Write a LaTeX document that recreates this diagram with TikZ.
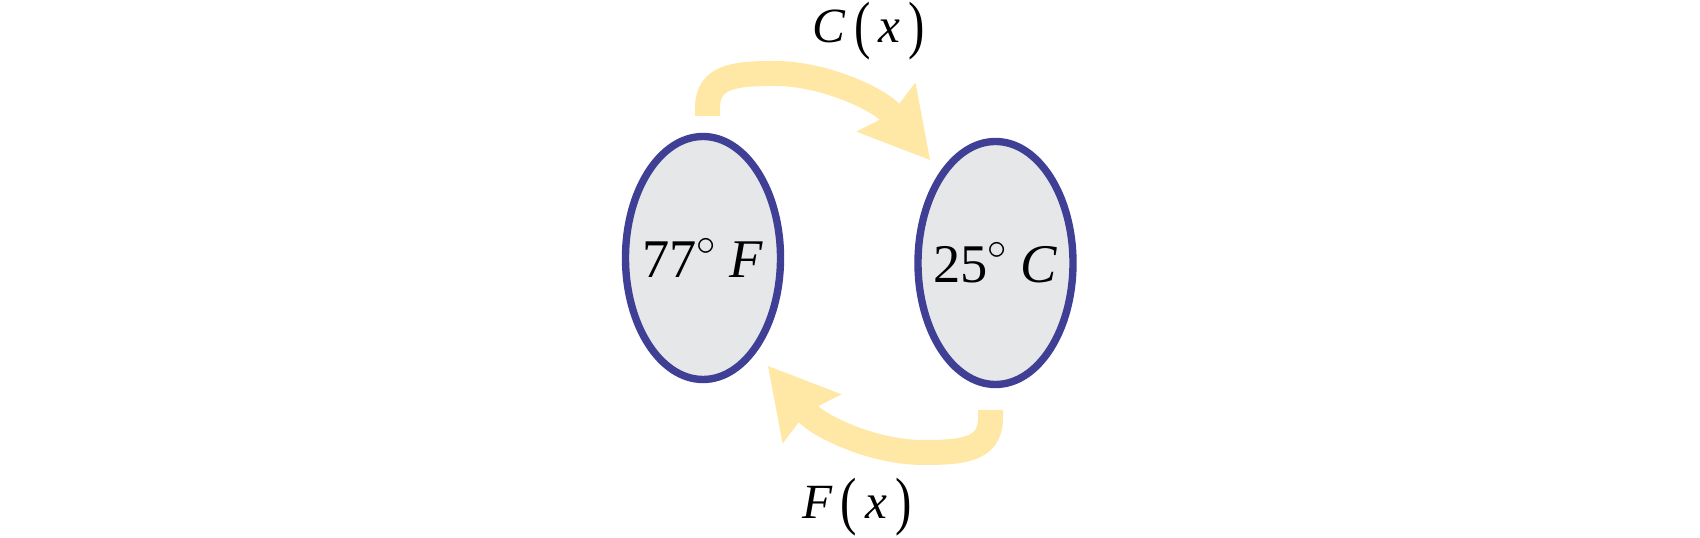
\documentclass[tikz,border=0pt]{standalone}
\usepackage{fontspec}
\setmainfont{Liberation Serif}
\usetikzlibrary{shapes.geometric, arrows.meta}
\definecolor{ringblue}{RGB}{63,63,150}
\definecolor{ringfill}{RGB}{230,231,232}
\definecolor{flowyellow}{RGB}{255,232,166}
\newcommand{\tallpar}[1]{\raisebox{-0.08em}{\scalebox{1}[1.3]{#1}}}
\newcommand{\degr}{\raisebox{0.42em}{\fontsize{11}{11}\selectfont$\circ$}}

\begin{document}
\begin{tikzpicture}[font=\fontsize{14}{16}\selectfont,
  temp/.style={ellipse, draw=ringblue, fill=ringfill, line width=2.1pt,
    minimum width=1.55cm, minimum height=2.43cm, inner sep=0pt,
    font=\fontsize{15.5}{17}\selectfont},
  flow/.style={flowyellow, line width=0.25cm,
    -{Stealth[length=0.69cm, width=0.77cm, inset=0.09cm, line width=0pt]}},
  lab/.style={inner sep=1pt}]
  \useasboundingbox (0,0) rectangle (17,5.38);
  \node[temp] (fahr) at (7.03,2.80) {\makebox[0pt]{77\degr\ \textit{F}}};
  \node[temp] (cels) at (9.955,2.75) {\makebox[0pt]{25\degr\ \textit{C}}};
  % free ends of the two conversion arrows
  \coordinate (ctail) at (7.075,4.22);
  \coordinate (ctip) at (9.30,3.78);
  \coordinate (ftail) at (9.905,1.28);
  \coordinate (ftip) at (7.68,1.72);
  \draw[flow] (ctail) -- (7.075,4.30) .. controls (7.075,4.62) and (7.35,4.645) .. (7.75,4.645)
    .. controls (8.25,4.645) and (8.80,4.38) .. (ctip);
  \draw[flow] (ftail) -- (9.905,1.20) .. controls (9.905,0.88) and (9.63,0.855) .. (9.23,0.855)
    .. controls (8.73,0.855) and (8.18,1.12) .. (ftip);
  \node[lab] (cfun) at (8.69,5.07) {\textit{C}\,\tallpar{(}\,\textit{x}\,\tallpar{)}};
  \node[lab] (ffun) at (8.57,0.31) {\textit{F}\,\tallpar{(}\,\textit{x}\,\tallpar{)}};
\end{tikzpicture}
\end{document}
